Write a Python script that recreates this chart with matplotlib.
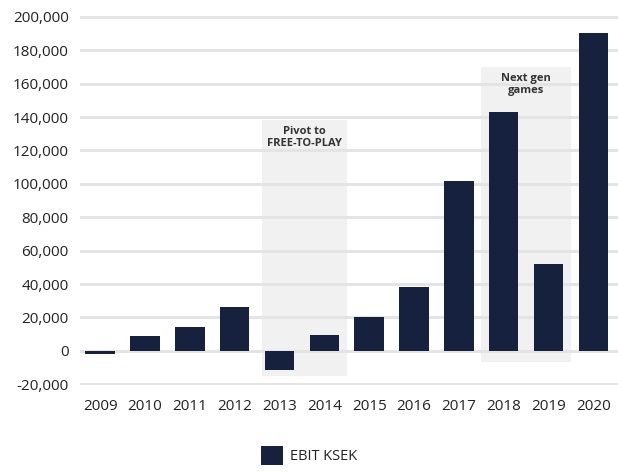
import matplotlib
matplotlib.use("Agg")
import matplotlib.pyplot as plt
from matplotlib.patches import Patch, Rectangle
from matplotlib.ticker import FuncFormatter

plt.rcParams['font.family'] = ['Open Sans', 'DejaVu Sans']

years = ["2009", "2010", "2011", "2012", "2013", "2014",
         "2015", "2016", "2017", "2018", "2019", "2020"]
ebit = [-1800, 9000, 14500, 26300, -11500, 9500,
        20500, 38200, 102000, 143000, 52000, 190000]

# shaded periods: (left edge, right edge, top, bottom, label)
periods = [
    (3.6, 5.5, 138000, -15000, "Pivot to\nFREE-TO-PLAY"),
    (8.5, 10.5, 170000, -6500, "Next gen\ngames"),
]

BAR_COLOR = "#15213d"
SHADE = "#f1f1f1"
GRID = "#e4e4e4"
TEXT = "#222222"

fig = plt.figure(figsize=(6.18, 4.73), dpi=100)
ax = fig.add_axes([0.1294, 0.185, 0.8706, 0.782])

x = list(range(len(years)))

for left, right, top, bottom, label in periods:
    ax.add_patch(Rectangle((left, bottom), right - left, top - bottom,
                           facecolor=SHADE, edgecolor="none", zorder=1))
    ax.text((left + right) / 2, top - 3500, label, ha="center", va="top",
            fontsize=8, fontweight="bold", color="#333333", zorder=4,
            linespacing=1.15)

ax.bar(x, ebit, width=0.66, color=BAR_COLOR, zorder=3, label="EBIT KSEK")

ax.set_yticks(range(-20000, 200001, 20000))
ax.yaxis.grid(True, color=GRID, linewidth=2.2, zorder=2)
ax.set_axisbelow(False)
ax.set_ylim(-20700, 200700)
ax.set_xlim(-0.45, 11.55)
ax.set_xticks(x)
ax.set_xticklabels(years)
ax.yaxis.set_major_formatter(FuncFormatter(lambda v, p: f"{int(v):,}"))

for s in ax.spines.values():
    s.set_visible(False)
ax.tick_params(axis="both", length=0, labelsize=11, colors=TEXT)
ax.tick_params(axis="y", pad=8)
ax.tick_params(axis="x", pad=10)

fig.legend(handles=[Patch(facecolor=BAR_COLOR, label="EBIT KSEK")],
           loc="lower center", bbox_to_anchor=(0.5, -0.01), frameon=False,
           fontsize=10.5, handlelength=1.5, handleheight=1.6, handletextpad=0.5,
           labelcolor=TEXT)

fig.savefig("out.png", dpi=100)
